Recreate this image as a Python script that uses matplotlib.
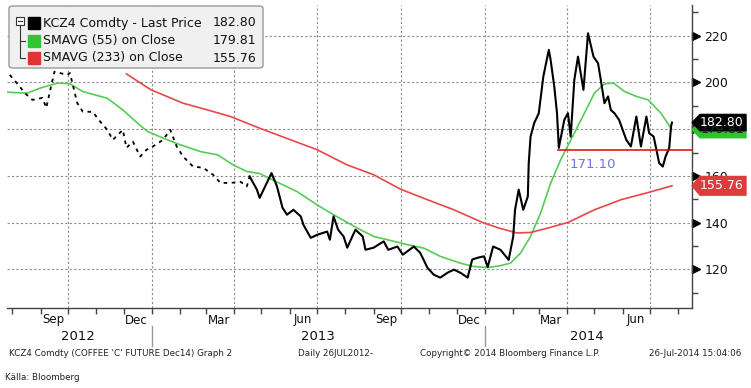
import matplotlib
matplotlib.use("Agg")
import matplotlib.pyplot as plt
import matplotlib.dates as mdates
import matplotlib.transforms as mtransforms
from matplotlib.patches import FancyBboxPatch, Polygon, Rectangle
import pandas as pd

"""
KCZ4 Comdty (coffee C Dec14) with 55 and 233 day moving averages, Bloomberg style
"""

W, H = 751, 388

# --- data --------------------------------------------------------------------
price_dates = [
    "2012-07-29", "2012-08-09", "2012-08-14", "2012-08-23", "2012-09-03", "2012-09-07",
    "2012-09-16", "2012-09-30", "2012-10-03", "2012-10-11", "2012-10-17", "2012-10-28",
    "2012-11-05", "2012-11-13", "2012-11-19", "2012-11-30", "2012-12-04", "2012-12-11",
    "2012-12-19", "2012-12-26", "2013-01-02", "2013-01-13", "2013-01-21", "2013-01-28",
    "2013-02-04", "2013-02-15", "2013-02-26", "2013-03-09", "2013-03-17", "2013-03-28",
    "2013-04-08", "2013-04-15", "2013-04-18", "2013-04-26", "2013-04-29", "2013-05-05",
    "2013-05-12", "2013-05-18", "2013-05-24", "2013-05-29", "2013-06-05", "2013-06-13",
    "2013-06-16", "2013-06-24", "2013-07-01", "2013-07-12", "2013-07-15", "2013-07-19",
    "2013-07-24", "2013-07-30", "2013-08-03", "2013-08-12", "2013-08-20", "2013-08-23",
    "2013-09-01", "2013-09-12", "2013-09-17", "2013-09-27", "2013-10-03", "2013-10-15",
    "2013-10-22", "2013-10-30", "2013-11-06", "2013-11-13", "2013-11-21", "2013-11-28",
    "2013-12-05", "2013-12-13", "2013-12-18", "2013-12-24", "2013-12-31", "2014-01-04",
    "2014-01-10", "2014-01-18", "2014-01-27", "2014-02-01", "2014-02-03", "2014-02-07",
    "2014-02-12", "2014-02-17", "2014-02-18", "2014-02-20", "2014-02-24", "2014-03-01",
    "2014-03-06", "2014-03-09", "2014-03-12", "2014-03-14", "2014-03-18", "2014-03-21",
    "2014-03-23", "2014-03-29", "2014-04-02", "2014-04-05", "2014-04-09", "2014-04-13",
    "2014-04-19", "2014-04-24", "2014-04-30", "2014-05-05", "2014-05-08", "2014-05-12",
    "2014-05-16", "2014-05-19", "2014-05-23", "2014-05-28", "2014-06-01", "2014-06-05",
    "2014-06-10", "2014-06-16", "2014-06-21", "2014-06-27", "2014-06-30", "2014-07-05",
    "2014-07-11", "2014-07-15", "2014-07-18", "2014-07-22", "2014-07-24", "2014-07-25",
]
price_values = [
    203.2, 198.2, 195.6, 192.5, 193.4, 189.1,
    204.6, 203.2, 204.0, 191.2, 187.5, 187.4,
    183.3, 179.7, 175.4, 179.7, 172.0, 174.7,
    168.3, 171.2, 172.6, 175.4, 179.7, 172.6,
    168.3, 164.0, 163.5, 160.5, 157.0, 157.0,
    157.5, 155.5, 159.8, 154.1, 150.6, 155.5,
    161.2, 155.5, 146.4, 143.4, 145.5, 142.7,
    139.1, 133.5, 134.8, 136.2, 132.7, 142.7,
    137.0, 134.1, 129.3, 137.0, 134.1, 128.4,
    129.3, 132.0, 128.4, 129.8, 126.3, 129.8,
    127.1, 120.7, 117.7, 116.5, 118.6, 119.9,
    118.6, 116.5, 124.2, 125.0, 125.6, 121.0,
    129.8, 128.4, 124.1, 134.1, 145.5, 154.1,
    145.5, 151.2, 165.5, 176.8, 182.6, 186.8,
    202.5, 208.2, 213.9, 209.6, 198.2, 186.8,
    172.0, 184.0, 186.8, 176.8, 201.1, 211.0,
    196.8, 221.0, 211.0, 208.2, 201.1, 191.1,
    194.0, 188.2, 186.8, 184.0, 179.7, 175.4,
    172.6, 185.4, 172.6, 185.4, 178.3, 176.8,
    165.5, 164.0, 168.3, 171.9, 181.1, 182.8,
]

sma55_dates = [
    "2012-07-26", "2012-08-17", "2012-08-31", "2012-09-19", "2012-10-03", "2012-10-17",
    "2012-11-13", "2012-11-30", "2012-12-16", "2012-12-27", "2013-01-13", "2013-02-01",
    "2013-02-23", "2013-03-14", "2013-03-31", "2013-04-15", "2013-04-29", "2013-05-13",
    "2013-06-09", "2013-07-01", "2013-07-19", "2013-08-14", "2013-09-01", "2013-09-16",
    "2013-10-08", "2013-10-26", "2013-11-13", "2013-12-05", "2013-12-19", "2014-01-04",
    "2014-01-18", "2014-01-29", "2014-02-09", "2014-02-20", "2014-03-03", "2014-03-14",
    "2014-03-25", "2014-04-09", "2014-04-20", "2014-05-01", "2014-05-12", "2014-05-22",
    "2014-06-03", "2014-06-16", "2014-06-29", "2014-07-13", "2014-07-25",
]
sma55_values = [
    195.8, 195.4, 197.5, 199.7, 199.4, 196.1,
    193.2, 188.2, 182.6, 179.0, 176.2, 173.3,
    170.4, 169.0, 164.7, 161.9, 161.0, 158.3,
    153.3, 147.6, 143.4, 137.7, 134.1, 132.7,
    130.6, 129.1, 125.6, 122.7, 121.3, 120.8,
    121.6, 122.7, 127.0, 134.1, 144.1, 156.9,
    166.9, 178.3, 186.8, 195.4, 199.4, 199.7,
    196.1, 194.0, 192.5, 186.8, 179.81,
]

sma233_dates = [
    "2012-12-04", "2012-12-31", "2013-02-04", "2013-03-03", "2013-03-28", "2013-04-29",
    "2013-07-01", "2013-08-03", "2013-09-01", "2013-09-30", "2013-10-30", "2013-11-28",
    "2013-12-31", "2014-01-18", "2014-02-05", "2014-02-20", "2014-03-11", "2014-04-02",
    "2014-05-01", "2014-05-30", "2014-06-29", "2014-07-25",
]
sma233_values = [
    203.6, 196.8, 191.1, 188.2, 185.4, 180.4,
    171.2, 164.7, 160.5, 154.4, 149.8, 145.5,
    139.8, 137.5, 135.6, 135.8, 137.7, 140.1,
    145.5, 149.8, 152.9, 155.76,
]

support_level = 171.10
support_start = "2014-03-22"

last_price, last_sma55, last_sma233 = 182.80, 179.81, 155.76
legend_rows = [("KCZ4 Comdty - Last Price", last_price, "#000000"),
               ("SMAVG (55) on Close", last_sma55, "#33c433"),
               ("SMAVG (233) on Close", last_sma233, "#e03434")]

month_labels = ["Sep", "Dec", "Mar", "Jun", "Sep", "Dec", "Mar", "Jun"]
month_label_dates = ["2012-09-15", "2012-12-15", "2013-03-15", "2013-06-15",
                     "2013-09-15", "2013-12-15", "2014-03-15", "2014-06-15"]
year_labels = ["2012", "2013", "2014"]
year_label_dates = ["2012-10-12", "2013-07-02", "2014-04-23"]
year_breaks = ["2013-01-01", "2014-01-01"]

price_d = pd.to_datetime(price_dates)
sma55_d = pd.to_datetime(sma55_dates)
sma233_d = pd.to_datetime(sma233_dates)

# --- figure --------------------------------------------------------------------
fig = plt.figure(figsize=(W / 100, H / 100), dpi=100)
fig.patch.set_facecolor("white")
ax = fig.add_axes([7 / W, 80 / H, 685 / W, 303 / H])
ax.set_xlim(pd.Timestamp("2012-07-26"), pd.Timestamp("2014-08-16"))
ax.set_ylim(103.5, 233.1)

for s in ("top", "left"):
    ax.spines[s].set_visible(False)
for s in ("bottom", "right"):
    ax.spines[s].set_color("#444444")
    ax.spines[s].set_linewidth(1.0)

# grid: dotted, horizontal every 20, vertical at quarter starts
grid_kw = dict(color="#8c8c8c", lw=0.8, linestyle=(0, (2, 2)), zorder=0)
for v in range(120, 221, 20):
    ax.axhline(v, **grid_kw)
for q in pd.date_range("2012-10-01", "2014-07-01", freq="QS"):
    ax.axvline(q, **grid_kw)

# price: early illiquid part looks broken up, later part solid
split = pd.Timestamp("2013-04-20")
early = price_d <= split
ax.plot(price_d[early], [v for v, e in zip(price_values, early) if e],
        color="black", lw=1.3, linestyle=(0, (2, 2.5)), zorder=4)
late = price_d >= pd.Timestamp("2013-04-18")
ax.plot(price_d[late], [v for v, e in zip(price_values, late) if e],
        color="black", lw=1.5, zorder=4)

ax.plot(sma55_d, sma55_values, color="#55cc55", lw=1.2, zorder=3)
ax.plot(sma233_d, sma233_values, color="#e8474a", lw=1.2, zorder=3)

# support line + label
ax.plot([pd.Timestamp(support_start), pd.Timestamp("2014-08-16")],
        [support_level, support_level], color="#e00000", lw=1.1, zorder=5)
ax.text(pd.Timestamp("2014-04-29"), support_level - 3.4, f"{support_level:.2f}",
        color="#6f74e0", fontsize=9.5, ha="center", va="top")

# x axis: ticks at month starts, labels by hand
ax.xaxis.set_major_locator(mdates.MonthLocator())
ax.xaxis.set_major_formatter(plt.NullFormatter())
ax.tick_params(axis="x", length=4, width=1, color="#444444", direction="out")
xt = mtransforms.blended_transform_factory(ax.transData, fig.transFigure)
for lab, d in zip(month_labels, month_label_dates):
    ax.text(pd.Timestamp(d), 1 - 320 / H, lab, transform=xt, ha="center",
            va="center", fontsize=8.5, color="#111111")
for lab, d in zip(year_labels, year_label_dates):
    ax.text(pd.Timestamp(d), 1 - 336 / H, lab, transform=xt, ha="center",
            va="center", fontsize=9.5, color="#111111")
for d in year_breaks:
    ax.plot([pd.Timestamp(d)] * 2, [1 - 326 / H, 1 - 346 / H], transform=xt,
            color="#999999", lw=1, clip_on=False)

# y axis on the right
ax.yaxis.tick_right()
ax.set_yticks(range(120, 221, 20))
ax.set_yticks(range(110, 231, 10), minor=True)
ax.tick_params(axis="y", which="major", length=0, pad=9, labelsize=9,
               labelcolor="#111111")
ax.tick_params(axis="y", which="minor", length=4, width=1, color="#444444")
yt = mtransforms.blended_transform_factory(ax.transAxes, ax.transData)
ax.plot([1.0 + 4 / 685] * 6, range(120, 221, 20), transform=yt, marker=">",
        markersize=5.5, color="black", linestyle="none", clip_on=False)


# --- helpers in figure pixel coordinates --------------------------------------
def fx(x):
    return x / W


def fy(y):
    return 1 - y / H


def tag(value, face, text_color, h=3.5):
    """Arrow shaped price tag on the right axis."""
    tr = mtransforms.blended_transform_factory(fig.transFigure, ax.transData)
    pts = [(fx(692), value), (fx(700), value + h), (fx(746), value + h),
           (fx(746), value - h), (fx(700), value - h)]
    fig.add_artist(Polygon(pts, closed=True, transform=tr, facecolor=face,
                           edgecolor=face, zorder=6))
    fig.add_artist(plt.Text(fx(722), value, f"{value:.2f}", transform=tr,
                            fontsize=9, color=text_color, ha="center",
                            va="center", zorder=7))


# green tag sits behind the black one, as in the terminal
tag(last_sma55, "#2fc22f", "#222222")
tag(last_price, "#000000", "white")
tag(last_sma233, "#dd3c3c", "white", h=4.0)

# legend box
fig.add_artist(FancyBboxPatch((fx(9), fy(68)), fx(254), 62 / H,
                              boxstyle="round,pad=0,rounding_size=0.006",
                              transform=fig.transFigure, facecolor="#f0f0f0",
                              edgecolor="#9a9a9a", lw=1.0, zorder=8))
# small tree glyph
fig.add_artist(Rectangle((fx(16), fy(25)), fx(8), 8 / H, transform=fig.transFigure,
                         facecolor="white", edgecolor="#333333", lw=0.8, zorder=9))
fig.add_artist(plt.Line2D([fx(18), fx(22)], [fy(21), fy(21)], transform=fig.transFigure,
                          color="#333333", lw=0.8, zorder=9))
fig.add_artist(plt.Line2D([fx(20), fx(20), fx(25)], [fy(25), fy(58), fy(58)],
                          transform=fig.transFigure, color="#333333", lw=0.8, zorder=9))
fig.add_artist(plt.Line2D([fx(20), fx(25)], [fy(41), fy(41)],
                          transform=fig.transFigure, color="#333333", lw=0.8, zorder=9))
for i, (name, val, col) in enumerate(legend_rows):
    yy = 23 + i * 17.5
    fig.add_artist(Rectangle((fx(28), fy(yy + 6)), fx(12), 12 / H,
                             transform=fig.transFigure, facecolor=col,
                             edgecolor=col, zorder=9))
    fig.text(fx(43), fy(yy), name, fontsize=9, color="#111111", va="center", zorder=9)
    fig.text(fx(256), fy(yy), f"{val:.2f}", fontsize=9, color="#111111",
             va="center", ha="right", zorder=9)

# footer
foot_kw = dict(fontsize=6.3, color="#222222", va="center")
fig.text(fx(9), fy(354), "KCZ4 Comdty (COFFEE 'C' FUTURE Dec14) Graph 2", **foot_kw)
fig.text(fx(298), fy(354), "Daily 26JUL2012-", **foot_kw)
fig.text(fx(420), fy(354), "Copyright\u00a9 2014 Bloomberg Finance L.P.", **foot_kw)
fig.text(fx(741), fy(354), "26-Jul-2014 15:04:06", ha="right", **foot_kw)
fig.text(fx(5), fy(378), "Källa: Bloomberg", **foot_kw)

fig.savefig("out.png", dpi=100)
